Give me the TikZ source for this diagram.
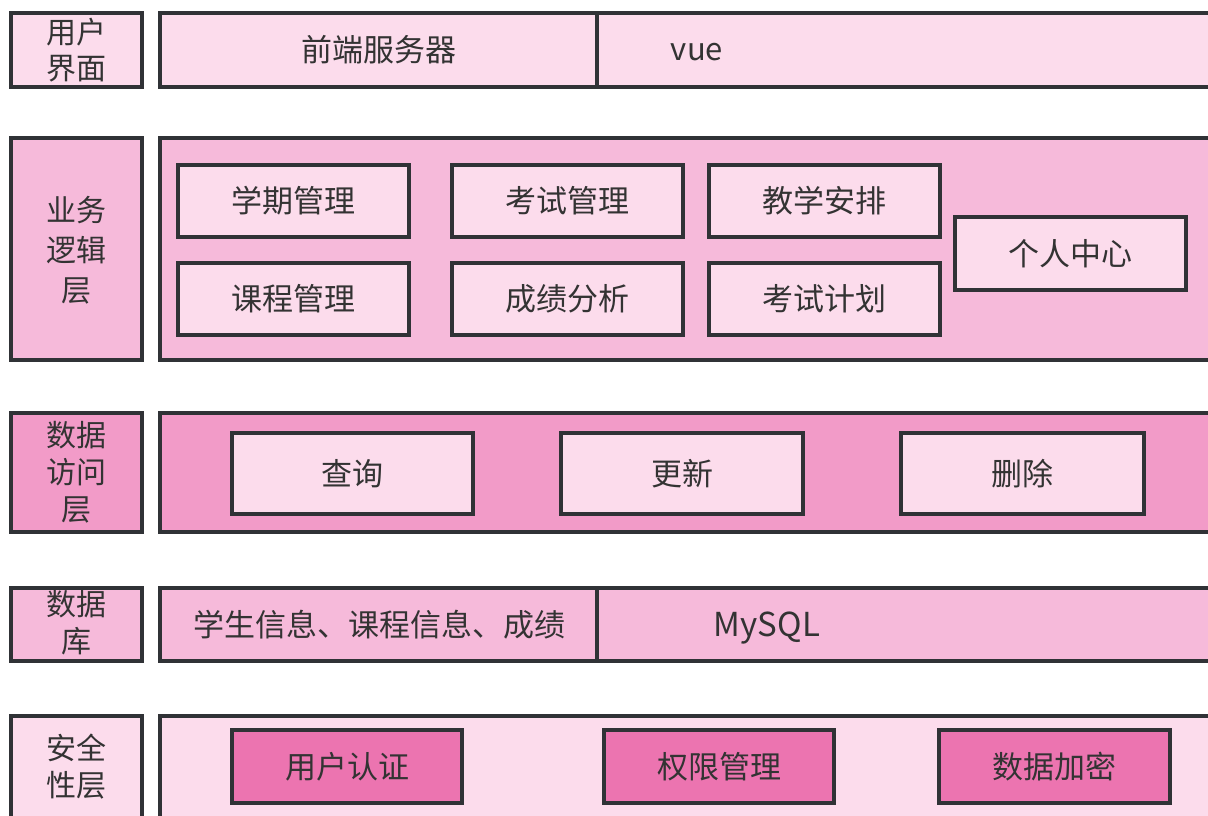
\documentclass[tikz,border=0pt]{standalone}
\usepackage{fontspec}
\setmainfont{Noto Sans CJK SC}
\definecolor{pinkA}{HTML}{FCDCEC}
\definecolor{pinkB}{HTML}{F6BADA}
\definecolor{pinkC}{HTML}{F29BC8}
\definecolor{pinkD}{HTML}{EC74B0}
\definecolor{edge}{HTML}{303236}
\definecolor{txt}{HTML}{333333}
\begin{document}
\begin{tikzpicture}[x=1pt,y=-1pt,
  lw/.style={line width=3.3pt},
  box/.style={draw=edge,lw,text=txt,font=\fontsize{31}{37}\selectfont,align=center},
  panel/.style={draw=edge,lw},
  ltext/.style={text=txt,font=\fontsize{30}{37}\selectfont,align=center},
  mtext/.style={text=txt,font=\fontsize{31}{37}\selectfont}]
\useasboundingbox (0,0) rectangle (1208,816);
\clip (0,0) rectangle (1208,816);
% Row 1
\filldraw[pinkA,panel] (11,13) rectangle (142,87);
\node[ltext,font=\fontsize{30}{36}\selectfont] (l1) at (76.5,50) {用户\\界面};
\filldraw[pinkA,panel] (160,13) rectangle (1230,87);
\draw[edge,lw] (597,13) -- (597,87);
\node[mtext] (fe) at (379,50) {前端服务器};
\node[mtext] (vue) at (697,52) {vue};
% Row 2
\filldraw[pinkB,panel] (11,138) rectangle (142,360);
\node[ltext,font=\fontsize{30}{40}\selectfont] (l2) at (76.5,250) {业务\\逻辑\\层};
\filldraw[pinkB,panel] (160,138) rectangle (1230,360);
\node[box,fill=pinkA,minimum width=231pt,minimum height=72pt] (b1) at (293.5,201) {学期管理};
\node[box,fill=pinkA,minimum width=231pt,minimum height=72pt] (b2) at (567.5,201) {考试管理};
\node[box,fill=pinkA,minimum width=231pt,minimum height=72pt] (b3) at (824.5,201) {教学安排};
\node[box,fill=pinkA,minimum width=231pt,minimum height=72pt] (b4) at (293.5,299) {课程管理};
\node[box,fill=pinkA,minimum width=231pt,minimum height=72pt] (b5) at (567.5,299) {成绩分析};
\node[box,fill=pinkA,minimum width=231pt,minimum height=72pt] (b6) at (824.5,299) {考试计划};
\node[box,fill=pinkA,minimum width=231pt,minimum height=73pt] (b7) at (1070.5,253.5) {个人中心};
% Row 3
\filldraw[pinkC,panel] (11,413) rectangle (142,532);
\node[ltext] (l3) at (76.5,472) {数据\\访问\\层};
\filldraw[pinkC,panel] (160,413) rectangle (1230,532);
\node[box,fill=pinkA,minimum width=241pt,minimum height=81pt] (c1) at (352.5,473.5) {查询};
\node[box,fill=pinkA,minimum width=242pt,minimum height=81pt] (c2) at (682,473.5) {更新};
\node[box,fill=pinkA,minimum width=243pt,minimum height=81pt] (c3) at (1022.5,473.5) {删除};
% Row 4
\filldraw[pinkB,panel] (11,588) rectangle (142,661);
\node[ltext] (l4) at (76.5,623) {数据\\库};
\filldraw[pinkB,panel] (160,588) rectangle (1230,661);
\draw[edge,lw] (597,588) -- (597,661);
\node[mtext] (db) at (379,625) {学生信息、课程信息、成绩};
\node[mtext,font=\fontsize{33}{37}\selectfont] (mysql) at (767,628) {MySQL};
% Row 5
\filldraw[pinkA,panel] (11,716) rectangle (142,840);
\node[ltext] (l5) at (76.5,767) {安全\\性层};
\filldraw[pinkA,panel] (160,716) rectangle (1230,840);
\node[box,fill=pinkD,minimum width=230pt,minimum height=73pt] (s1) at (347,766.5) {用户认证};
\node[box,fill=pinkD,minimum width=230pt,minimum height=73pt] (s2) at (719,766.5) {权限管理};
\node[box,fill=pinkD,minimum width=231pt,minimum height=73pt] (s3) at (1054.5,766.5) {数据加密};
\end{tikzpicture}
\end{document}
